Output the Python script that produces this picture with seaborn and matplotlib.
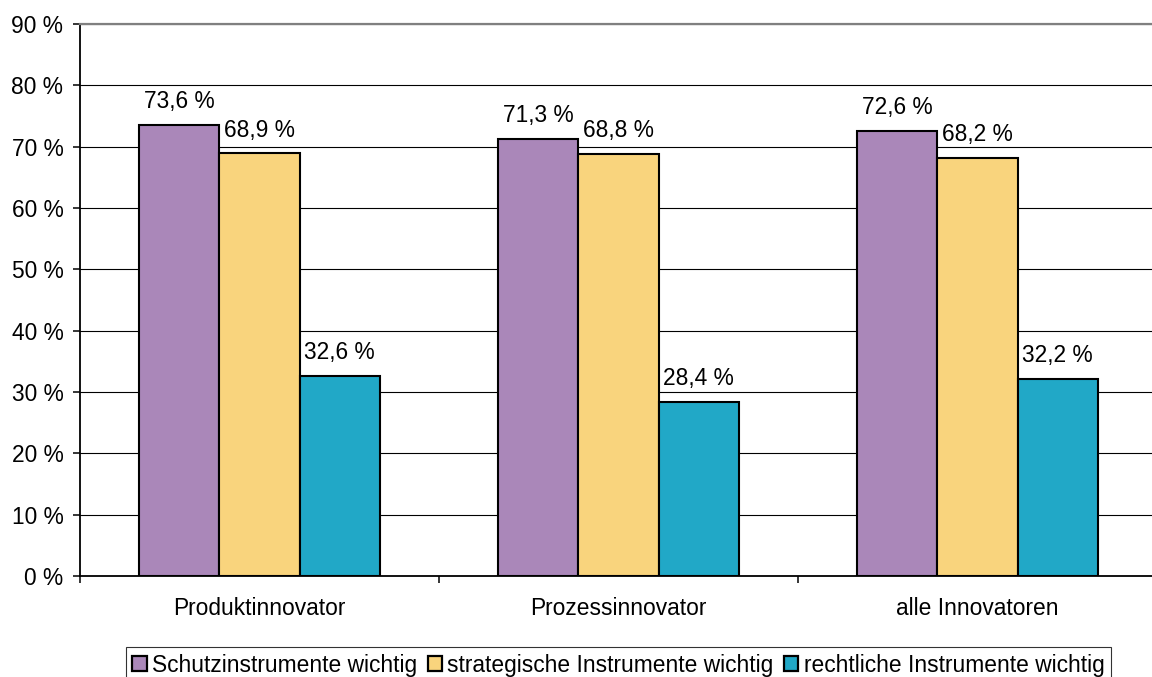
import matplotlib
matplotlib.use("Agg")
import matplotlib.pyplot as plt
from matplotlib.ticker import FixedLocator
import seaborn as sns
import pandas as pd

# Shares of innovators rating protection instruments as important (%)
categories = ["Produktinnovator", "Prozessinnovator", "alle Innovatoren"]
series = [
    "Schutzinstrumente wichtig",
    "strategische Instrumente wichtig",
    "rechtliche Instrumente wichtig",
]
schutz = [73.6, 71.3, 72.6]
strategisch = [68.9, 68.8, 68.2]
rechtlich = [32.6, 28.4, 32.2]
colors = ["#AA87B9", "#F9D47D", "#21A8C7"]
y_ticks = [0, 10, 20, 30, 40, 50, 60, 70, 80, 90]

rows = []
for name, values in zip(series, [schutz, strategisch, rechtlich]):
    for cat, v in zip(categories, values):
        rows.append({"Gruppe": cat, "Anteil": v, "Reihe": name})
df = pd.DataFrame(rows)

sns.set_theme(style="white")
plt.rcParams["font.family"] = ["Liberation Sans", "DejaVu Sans"]
plt.rcParams["text.color"] = "black"
plt.rcParams["xtick.color"] = "black"
plt.rcParams["ytick.color"] = "black"

fs = 16.4
fig = plt.figure(figsize=(11.52, 6.77), dpi=100)
ax = fig.add_axes([80 / 1152, 101 / 677, 1077 / 1152, 552 / 677])

sns.barplot(
    data=df, x="Gruppe", y="Anteil", hue="Reihe",
    order=categories, hue_order=series, palette=colors,
    width=0.67, edgecolor="black", linewidth=1.5, saturation=1,
    errorbar=None, ax=ax,
)

# value labels above bars, German decimal comma
for cont, values in zip(ax.containers, [schutz, strategisch, rechtlich]):
    labels = [f"{v:.1f}".replace(".", ",") + " %" for v in values]
    ax.bar_label(cont, labels=labels, padding=8.5, fontsize=fs, color="black")

ax.set_xlim(-0.5, 2.5)
ax.set_ylim(0, 90)
ax.set_yticks(y_ticks)
ax.set_yticklabels([f"{t} %" for t in y_ticks], fontsize=fs)
ax.set_xticks(range(len(categories)))
ax.set_xticklabels(categories, fontsize=fs)
ax.xaxis.set_minor_locator(FixedLocator([-0.5, 0.5, 1.5, 2.5]))
ax.tick_params(axis="x", which="major", length=0, pad=15, bottom=True)
ax.tick_params(axis="x", which="minor", length=5, width=1.1, direction="out",
               color="black", bottom=True)
ax.tick_params(axis="y", which="major", length=5, width=1.1, direction="out", pad=7, left=True)
ax.set_xlabel("")
ax.set_ylabel("")

ax.yaxis.grid(True, color="black", linewidth=0.8)
ax.xaxis.grid(False)
ax.set_axisbelow(True)

for side in ["left", "bottom"]:
    ax.spines[side].set_color("black")
    ax.spines[side].set_linewidth(1.3)
ax.spines["top"].set_color("#808080")
ax.spines["top"].set_linewidth(1.6)
ax.spines["right"].set_color("#808080")
ax.spines["right"].set_linewidth(1.6)

handles, _ = ax.get_legend_handles_labels()
if ax.get_legend() is not None:
    ax.get_legend().remove()
leg = ax.legend(
    handles, series, loc="upper center", bbox_to_anchor=(0.5, -0.1286),
    ncol=3, fontsize=fs, frameon=True, fancybox=False,
    handlelength=0.62, handleheight=0.62, handletextpad=0.25,
    columnspacing=0.45, borderpad=0.3, borderaxespad=0,
)
leg.get_frame().set_edgecolor("black")
leg.get_frame().set_linewidth(0.8)
for h in leg.legend_handles:
    h.set_edgecolor("black")
    h.set_linewidth(1.6)

fig.savefig("out.png", dpi=100)
